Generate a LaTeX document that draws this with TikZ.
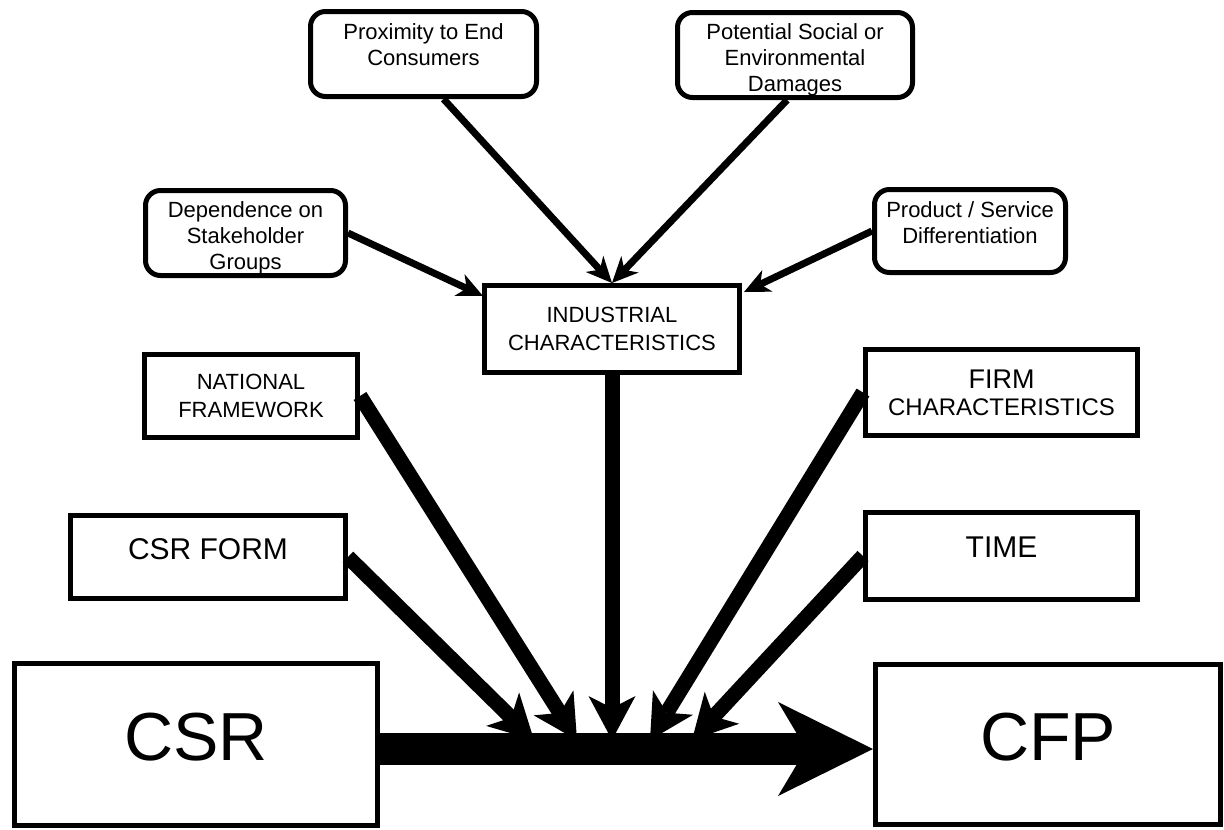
\documentclass[tikz,border=0pt]{standalone}
\usepackage{fontspec}
\setmainfont{Liberation Sans}
\usetikzlibrary{arrows.meta,calc}
\begin{document}
\begin{tikzpicture}[x=1pt,y=-1pt,
  rbox/.style={draw, line width=5pt, rounded corners=15pt, inner sep=0pt, outer sep=2.5pt},
  sbox/.style={draw, line width=5pt, inner sep=0pt, outer sep=2.5pt, align=center},
  small/.style={font=\fontsize{22}{26}\selectfont, align=center, inner sep=0pt},
  thinarrow/.style={line width=7pt, -{Stealth[length=26pt,width=24pt,inset=8pt,line width=0pt]}},
  thickarrow/.style={line width=15pt, -{Stealth[length=44pt,width=47pt,inset=12pt,line width=0pt]}},
  mainarrow/.style={line width=32pt, -{Stealth[length=95pt,width=94pt,inset=28pt,line width=0pt]}}
]
\useasboundingbox (0,0) rectangle (1224,830);

% rounded boxes
\node[rbox, minimum width=226pt, minimum height=85pt] (prox) at (423.5,54) {};
\node[small, anchor=north] (proxT) at ([yshift=-14pt]prox.north) {Proximity to End\\Consumers};
\node[rbox, minimum width=235pt, minimum height=85pt] (pot) at (795,55) {};
\node[small, anchor=north] (potT) at ([yshift=-13pt]pot.north) {Potential Social or\\Environmental\\Damages};
\node[rbox, minimum width=200pt, minimum height=85pt] (dep) at (245.5,233) {};
\node[small, anchor=north] (depT) at ([yshift=-13pt]dep.north) {Dependence on\\Stakeholder\\Groups};
\node[rbox, minimum width=191pt, minimum height=83pt] (prod) at (970,231) {};
\node[small, anchor=north] (prodT) at ([yshift=-14pt]prod.north) {Product / Service\\Differentiation};

% rectangles
\node[sbox, minimum width=255pt, minimum height=87pt, font=\fontsize{22}{27.5}\selectfont] (ind) at (612,329) {INDUSTRIAL\\CHARACTERISTICS};
\node[sbox, minimum width=213pt, minimum height=83pt, font=\fontsize{22}{28}\selectfont] (nat) at (251,396) {NATIONAL\\FRAMEWORK};
\node[sbox, minimum width=272pt, minimum height=86pt, font=\fontsize{24}{27}\selectfont] (firm) at (1001.5,392.5) {{\fontsize{27}{27}\selectfont FIRM}\\CHARACTERISTICS};
\node[sbox, minimum width=275pt, minimum height=83pt, font=\fontsize{30}{36}\selectfont, text depth=15.5pt] (form) at (208,557) {CSR FORM};
\node[sbox, minimum width=272pt, minimum height=87pt, font=\fontsize{30}{36}\selectfont, text depth=17.5pt] (time) at (1001.5,556) {TIME};
\node[sbox, minimum width=363pt, minimum height=162pt, font=\fontsize{68}{80}\selectfont, text depth=15pt] (csr) at (196,744.5) {CSR};
\node[sbox, minimum width=345pt, minimum height=160pt, font=\fontsize{68}{80}\selectfont, text depth=15pt] (cfp) at (1048,744.5) {CFP};

% free ends
\coordinate (depEnd) at ($(ind.north west)+(1,13)$);
\coordinate (prodEnd) at ($(ind.north east)+(2,9)$);
\coordinate (e1) at (534,740);
\coordinate (e2) at (577,740);
\coordinate (e3) at (612,740);
\coordinate (e4) at (650,740);
\coordinate (e5) at (692,740);

% thin arrows
\draw[thinarrow] (dep.east) -- (depEnd);
\draw[thinarrow] (prox.-66) -- (ind.north);
\draw[thinarrow] (pot.-100) -- (ind.north);
\draw[thinarrow] (prod.west) -- (prodEnd);

% thick arrows
\draw[thickarrow] (form.east) -- (e1);
\draw[thickarrow] (nat.east) -- (e2);
\draw[thickarrow] (ind.south) -- (e3);
\draw[thickarrow] (firm.west) -- (e4);
\draw[thickarrow] (time.west) -- (e5);

% main arrow
\draw[mainarrow] ([yshift=-4.5pt]csr.east) -- ([yshift=-4.5pt]cfp.west);
\end{tikzpicture}
\end{document}
